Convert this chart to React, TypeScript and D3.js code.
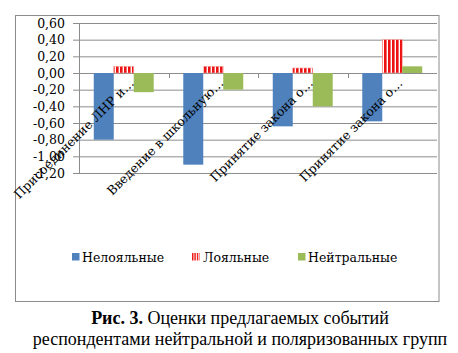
import * as d3 from "d3";

const categories = ["Присоединение ЛНР и…", "Введение в школьную…", "Принятие закона о…", "Принятие закона о…"];
const seriesNames = ["Нелояльные", "Лояльные", "Нейтральные"];
const disloyal = [-0.8, -1.1, -0.64, -0.58];
const loyal = [0.08, 0.08, 0.06, 0.4];
const neutral = [-0.23, -0.2, -0.4, 0.08];
const yTicks = [0.6, 0.4, 0.2, 0, -0.2, -0.4, -0.6, -0.8, -1.0, -1.2];

const W = 458;
const H = 353;
const plot = { left: 79, right: 437, top: 23, bottom: 173 };
const chartFont = "'DejaVu Serif', serif";
const captionFont = "'Liberation Serif', 'Times New Roman', serif";

const colors = ["#4F81BD", "url(#redHatch)", "#9BBB59"];
const swatch = ["#4F81BD", "url(#redHatchLegend)", "#9BBB59"];

export default function App() {
  const values = [disloyal, loyal, neutral];

  const y = d3.scaleLinear().domain([-1.2, 0.6]).range([plot.bottom, plot.top]);
  const x = d3
    .scaleBand<number>()
    .domain(d3.range(categories.length))
    .range([plot.left, plot.right])
    .paddingInner(0.33)
    .paddingOuter(0.165);
  const xs = d3
    .scaleBand<number>()
    .domain(d3.range(seriesNames.length))
    .range([0, x.bandwidth()]);

  const fmt = d3.formatLocale({ decimal: ",", thousands: " ", grouping: [3], currency: ["", ""], minus: "-" }).format(".2f");
  const y0 = y(0);

  // legend layout
  const legendX = [72, 192, 298];
  const legendY = 257;

  return (
    <svg
      width={W}
      height={H}
      style={{ position: "absolute", left: 0, top: 0, background: "#fff" }}
    >
      <defs>
        <pattern id="redHatch" width={4} height={4} patternUnits="userSpaceOnUse" x={0}>
          <rect width={4} height={4} fill="#fff" />
          <rect width={2.6} height={4} fill="#ee1111" />
        </pattern>
        <pattern id="redHatchLegend" width={2.4} height={4} patternUnits="userSpaceOnUse">
          <rect width={2.4} height={4} fill="#fff" />
          <rect width={1.4} height={4} fill="#ee1111" />
        </pattern>
      </defs>

      {/* outer chart border */}
      <rect x={15.5} y={15.5} width={423.5} height={286} fill="#fff" stroke="#8c8c8c" />

      {/* gridlines */}
      {yTicks.map((t) => (
        <line key={t} x1={plot.left} x2={plot.right} y1={y(t) + 0.5} y2={y(t) + 0.5} stroke="#8c8c8c" />
      ))}

      {/* y axis */}
      <line x1={plot.left + 0.5} x2={plot.left + 0.5} y1={plot.top} y2={plot.bottom + 0.5} stroke="#8c8c8c" />
      {yTicks.map((t) => (
        <g key={"t" + t}>
          <line x1={plot.left - 6} x2={plot.left} y1={y(t) + 0.5} y2={y(t) + 0.5} stroke="#8c8c8c" />
          <text
            x={65}
            y={y(t) + 4.5}
            textAnchor="end"
            fontFamily={chartFont}
            fontSize={12.5}
            fill="#000"
          >
            {fmt(t)}
          </text>
        </g>
      ))}

      {/* category boundary ticks */}
      {d3.range(1, categories.length).map((i) => {
        const bx = Math.round(plot.left + i * x.step()) + 0.5;
        return <line key={"c" + i} x1={bx} x2={bx} y1={y0} y2={y0 + 5} stroke="#8c8c8c" />;
      })}

      {/* bars */}
      {values.map((arr, s) =>
        arr.map((v, i) => {
          const bx = (x(i) ?? 0) + (xs(s) ?? 0);
          const top = Math.min(y(v), y0);
          const h = Math.abs(y(v) - y0);
          return (
            <rect
              key={s + "-" + i}
              x={bx}
              y={top}
              width={xs.bandwidth()}
              height={h}
              fill={colors[s]}
              stroke={s === 1 ? "#f4a0a0" : "none"}
              strokeWidth={s === 1 ? 0.6 : 0}
            />
          );
        })
      )}

      {/* category labels */}
      {categories.map((c, i) => {
        const cx = (x(i) ?? 0) + x.bandwidth() / 2 + 11;
        const cy = y0 + 11;
        return (
          <text
            key={"l" + i}
            transform={`translate(${cx},${cy}) rotate(-45)`}
            textAnchor="end"
            fontFamily={chartFont}
            fontSize={12.5}
            fill="#000"
          >
            {c}
          </text>
        );
      })}

      {/* legend */}
      {seriesNames.map((n, i) => (
        <g key={n}>
          <rect x={legendX[i]} y={legendY - 4} width={7.5} height={7.5} fill={swatch[i]} />
          <text
            x={legendX[i] + (i === 1 ? 11 : 10)}
            y={legendY + 4.5}
            fontFamily={chartFont}
            fontSize={12.5}
            fill="#000"
          >
            {n}
          </text>
        </g>
      ))}

      {/* caption */}
      <text x={240} y={324} textAnchor="middle" fontFamily={captionFont} fontSize={18} fill="#000">
        <tspan fontWeight="bold">Рис. 3.</tspan> Оценки предлагаемых событий
      </text>
      <text x={240} y={345} textAnchor="middle" fontFamily={captionFont} fontSize={18} fill="#000">
        респондентами нейтральной и поляризованных групп
      </text>
    </svg>
  );
}
